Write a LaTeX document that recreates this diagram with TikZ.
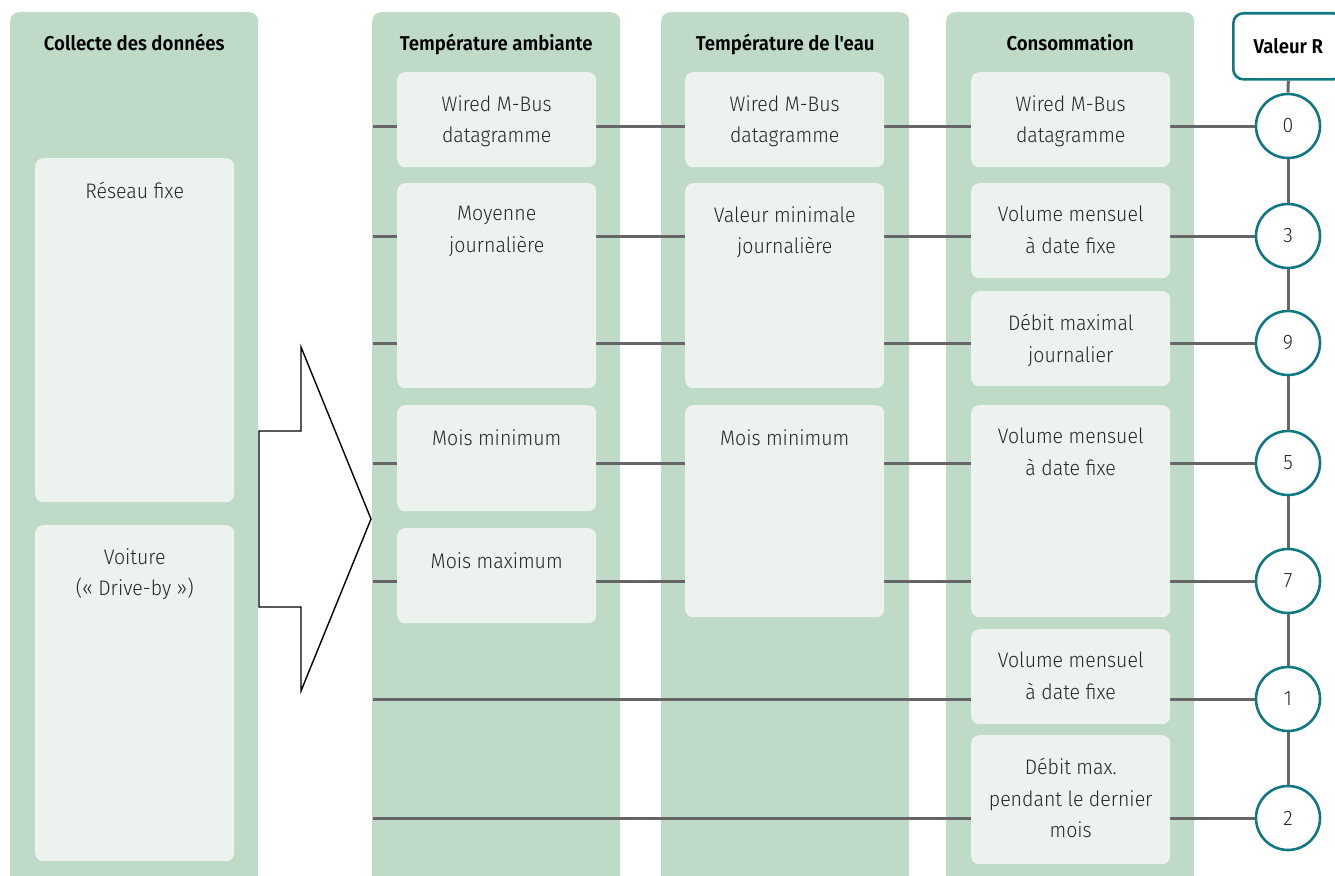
\documentclass[tikz,border=0pt]{standalone}
\usepackage{fontspec}
\setmainfont{Fira Sans}[UprightFont={* Light}, BoldFont={* SemiBold}, FakeStretch=0.93, Ligatures=TeXOff]
\usetikzlibrary{positioning}

\definecolor{colfill}{HTML}{C0DAC8}
\definecolor{cellfill}{HTML}{ECF2EE}
\definecolor{rteal}{HTML}{0F7880}
\definecolor{linegray}{HTML}{666666}
\definecolor{txtgray}{HTML}{262626}

\begin{document}
\begin{tikzpicture}[x=1pt,y=-1pt,
	column/.style={fill=colfill, rounded corners=9pt, inner sep=0pt, anchor=north west, minimum width=248pt, minimum height=900pt},
	cell/.style={fill=cellfill, rounded corners=8pt, inner sep=0pt, anchor=north west, minimum width=199pt},
	celltext/.style={anchor=north, align=center, text=txtgray, inner sep=0pt, font=\fontsize{21}{31.5}\selectfont, execute at begin node={\rule{0pt}{17pt}}},
	title/.style={anchor=base, font=\bfseries\fontsize{20}{24}\selectfont, text=black},
	rnode/.style={circle, draw=rteal, line width=2.6pt, fill=white, minimum size=64pt, inner sep=0pt, text=txtgray, font=\fontsize{21}{24}\selectfont},
	link/.style={draw=linegray, line width=3pt}]
	\useasboundingbox (0,0) rectangle (1335,875);

	% colonnes
	\node[column] (colData) at (10,12) {};
	\node[column] (colAmb) at (372,12) {};
	\node[column] (colEau) at (661,12) {};
	\node[column] (colConso) at (946,12) {};
	\node[title] (tData) at ([yshift=-39pt]colData.north) {Collecte des données};
	\node[title] (tAmb) at ([yshift=-39pt]colAmb.north) {Température ambiante};
	\node[title] (tEau) at ([yshift=-39pt]colEau.north) {Température de l'eau};
	\node[title] (tConso) at ([yshift=-39pt]colConso.north) {Consommation};

	% valeur R
	\node[draw=rteal, line width=2.6pt, fill=white, rounded corners=10pt, anchor=north west, minimum width=110pt, minimum height=66pt, font=\bfseries\fontsize{20}{24}\selectfont] (vr) at (1232,12) {Valeur R};
	\foreach \v/\y in {0/126,3/236,9/343,5/463,7/581,1/699,2/818}
		\node[rnode] (r\v) at (1288,\y) {\v};
	\foreach \a/\b in {vr/r0,r0/r3,r3/r9,r9/r5,r5/r7,r7/r1,r1/r2}
		\draw[link] (\a.south) -- (\b.north);
	\foreach \v/\y in {0/126,3/236,9/343,5/463,7/581,1/699,2/818} {
		\coordinate (s\v) at (373,\y);
		\draw[link] (s\v) -- (r\v.west);
	}

	% collecte
	\node[cell, minimum height=344pt] (cFixe) at (35,158) {};
	\node[celltext] (tFixe) at ([yshift=-23pt]cFixe.north) {Réseau fixe};
	\node[cell, minimum height=336pt] (cVoiture) at (35,525) {};
	\node[celltext] (tVoiture) at ([yshift=-23pt]cVoiture.north) {Voiture\\(« Drive-by »)};

	% temperature ambiante
	\node[cell, minimum height=95pt] (cAmbA) at (397,72) {};
	\node[celltext] (tAmbA) at ([yshift=-23pt]cAmbA.north) {Wired M-Bus\\datagramme};
	\node[cell, minimum height=205pt] (cAmbB) at (397,183) {};
	\node[celltext] (tAmbB) at ([yshift=-23pt]cAmbB.north) {Moyenne\\journalière};
	\node[cell, minimum height=106pt] (cAmbC) at (397,405) {};
	\node[celltext] (tAmbC) at ([yshift=-23pt]cAmbC.north) {Mois minimum};
	\node[cell, minimum height=95pt] (cAmbD) at (397,528) {};
	\node[celltext] (tAmbD) at ([yshift=-23pt]cAmbD.north) {Mois maximum};

	% temperature de l'eau
	\node[cell, minimum height=95pt] (cEauA) at (685,72) {};
	\node[celltext] (tEauA) at ([yshift=-23pt]cEauA.north) {Wired M-Bus\\datagramme};
	\node[cell, minimum height=205pt] (cEauB) at (685,183) {};
	\node[celltext] (tEauB) at ([yshift=-23pt]cEauB.north) {Valeur minimale\\journalière};
	\node[cell, minimum height=212pt] (cEauC) at (685,405) {};
	\node[celltext] (tEauC) at ([yshift=-23pt]cEauC.north) {Mois minimum};

	% consommation
	\node[cell, minimum height=95pt] (cConA) at (971,72) {};
	\node[celltext] (tConA) at ([yshift=-23pt]cConA.north) {Wired M-Bus\\datagramme};
	\node[cell, minimum height=95pt] (cConB) at (971,183) {};
	\node[celltext] (tConB) at ([yshift=-23pt]cConB.north) {Volume mensuel\\à date fixe};
	\node[cell, minimum height=95pt] (cConC) at (971,291) {};
	\node[celltext] (tConC) at ([yshift=-23pt]cConC.north) {Débit maximal\\journalier};
	\node[cell, minimum height=212pt] (cConD) at (971,405) {};
	\node[celltext] (tConD) at ([yshift=-23pt]cConD.north) {Volume mensuel\\à date fixe};
	\node[cell, minimum height=95pt] (cConE) at (971,629) {};
	\node[celltext] (tConE) at ([yshift=-23pt]cConE.north) {Volume mensuel\\à date fixe};
	\node[cell, minimum height=129pt] (cConF) at (971,735) {};
	\node[celltext] (tConF) at ([yshift=-23pt]cConF.north) {Débit max.\\pendant le dernier\\mois};

	% fleche
	\draw[line width=1.4pt, fill=white, line join=miter] (259,431) -- (301,431) -- (301,347) -- (371,519) -- (301,691) -- (301,607) -- (259,607) -- cycle;
\end{tikzpicture}
\end{document}
